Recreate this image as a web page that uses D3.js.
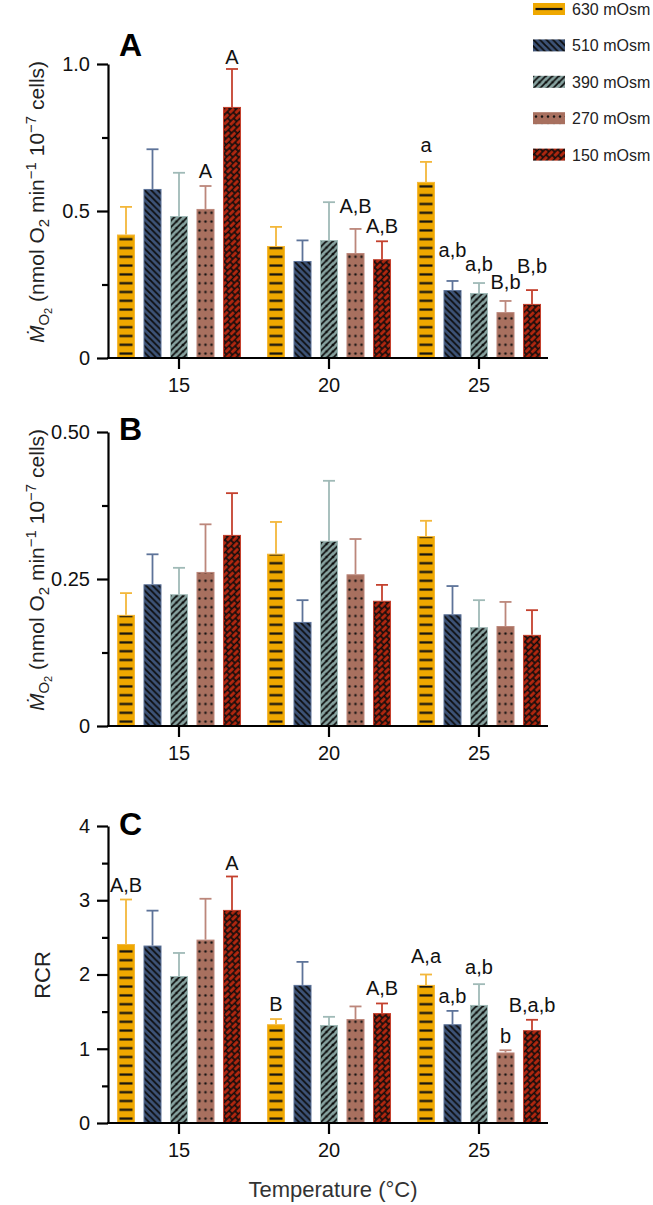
<!DOCTYPE html>
<html>
<head>
<meta charset="utf-8">
<script src="https://cdn.jsdelivr.net/npm/d3@7"></script>
<style>
  body { margin: 0; background: #fff; }
  svg { display: block; font-family: "Liberation Sans", Arial, sans-serif; }
</style>
</head>
<body>
<svg id="chart" width="653" height="1205"></svg>
<script>
// ---- data ----
var temps = ["15", "20", "25"];
var osm = ["630 mOsm", "510 mOsm", "390 mOsm", "270 mOsm", "150 mOsm"];

// panel A: MO2 (intact cells), mean and SEM, [temperature][osmolality]
var meanA = [[0.42, 0.575, 0.483, 0.507, 0.854],
             [0.381, 0.33, 0.401, 0.357, 0.336],
             [0.599, 0.231, 0.221, 0.156, 0.184]];
var semA  = [[0.094, 0.135, 0.147, 0.078, 0.129],
             [0.065, 0.07, 0.129, 0.082, 0.061],
             [0.068, 0.031, 0.034, 0.038, 0.047]];

// panel B
var meanB = [[0.189, 0.241, 0.224, 0.262, 0.325],
             [0.293, 0.177, 0.315, 0.258, 0.213],
             [0.323, 0.19, 0.168, 0.17, 0.155]];
var semB  = [[0.037, 0.051, 0.045, 0.081, 0.071],
             [0.054, 0.037, 0.102, 0.06, 0.027],
             [0.026, 0.048, 0.046, 0.041, 0.042]];

// panel C: RCR
var meanC = [[2.41, 2.39, 1.98, 2.47, 2.87],
             [1.33, 1.86, 1.32, 1.40, 1.48],
             [1.86, 1.33, 1.59, 0.95, 1.25]];
var semC  = [[0.60, 0.47, 0.31, 0.55, 0.45],
             [0.07, 0.31, 0.11, 0.17, 0.13],
             [0.14, 0.18, 0.28, 0.03, 0.14]];

// significance letters: [temp index, osm index, text, value where the text sits]
var lettersA = [[0, 3, "A", 0.612], [0, 4, "A", 1.0],
                [1, 3, "A,B", 0.493], [1, 4, "A,B", 0.425],
                [2, 0, "a", 0.70], [2, 1, "a,b", 0.344], [2, 2, "a,b", 0.296],
                [2, 3, "B,b", 0.235], [2, 4, "B,b", 0.289]];
var lettersB = [];
var lettersC = [[0, 0, "A,B", 3.11], [0, 4, "A", 3.41],
                [1, 0, "B", 1.51], [1, 4, "A,B", 1.72],
                [2, 0, "A,a", 2.15], [2, 1, "a,b", 1.62], [2, 2, "a,b", 2.01],
                [2, 3, "b", 1.08], [2, 4, "B,a,b", 1.49]];

var fills  = ["#EFA800", "#3D5377", "#87A3A0", "#A8705F", "#B3270F"];
var lights = ["#F3B73A", "#5D7399", "#A0BAB7", "#BC877B", "#C4412E"];

var svg = d3.select("#chart");
var defs = svg.append("defs");

// hatch patterns, one set for bars and one for legend swatches
function makePatterns(suffix, w, h0) {
  // 630: horizontal dashes
  var p = defs.append("pattern").attr("id", "p0" + suffix)
    .attr("patternUnits", "userSpaceOnUse").attr("width", w).attr("height", h0);
  p.append("rect").attr("width", w).attr("height", h0).attr("fill", fills[0]);
  p.append("rect").attr("x", 2.5).attr("y", h0 / 2 - 1.1).attr("width", w - 5).attr("height", 2.2).attr("fill", "#111");

  // 510: "\" lines
  p = defs.append("pattern").attr("id", "p1" + suffix)
    .attr("patternUnits", "userSpaceOnUse").attr("width", 6.5).attr("height", 6.5);
  p.append("rect").attr("width", 6.5).attr("height", 6.5).attr("fill", fills[1]);
  p.append("path").attr("d", "M-1,-1L7.5,7.5M-1,5.5L1,7.5M5.5,-1L7.5,1")
    .attr("stroke", "#0c0c0c").attr("stroke-width", 1.8);

  // 390: "/" lines
  p = defs.append("pattern").attr("id", "p2" + suffix)
    .attr("patternUnits", "userSpaceOnUse").attr("width", 6.5).attr("height", 6.5);
  p.append("rect").attr("width", 6.5).attr("height", 6.5).attr("fill", fills[2]);
  p.append("path").attr("d", "M-1,7.5L7.5,-1M-1,1.5L1.5,-1M5,7.5L7.5,5")
    .attr("stroke", "#0c0c0c").attr("stroke-width", 1.7);

  // 270: dots
  p = defs.append("pattern").attr("id", "p3" + suffix)
    .attr("patternUnits", "userSpaceOnUse").attr("width", 6).attr("height", 8.8);
  p.append("rect").attr("width", 6).attr("height", 8.8).attr("fill", fills[3]);
  p.append("circle").attr("cx", 3).attr("cy", 4.4).attr("r", 1.2).attr("fill", "#111");

  // 150: diagonal bricks
  p = defs.append("pattern").attr("id", "p4" + suffix)
    .attr("patternUnits", "userSpaceOnUse").attr("width", 8).attr("height", 9)
    .attr("patternTransform", "rotate(-45)");
  p.append("rect").attr("width", 8).attr("height", 9).attr("fill", fills[4]);
  p.append("path").attr("d", "M0,0H8M0,4.5H8M0,9H8M1,0V4.5M5,4.5V9")
    .attr("stroke", "#0c0c0c").attr("stroke-width", 1.6);
}
makePatterns("bar", 18, 8.8);
makePatterns("leg", 32, 12);

// ---- shared x scales ----
var xAxisLeft = 108, xAxisRight = 548;
var xg = d3.scaleBand().domain(temps).range([104, 554]);
var xs = d3.scaleBand().domain(osm).range([-66.25, 66.25]).paddingInner(0.32).paddingOuter(0.16);

function drawPanel(opt) {
  var y = d3.scaleLinear().domain(opt.domain).range([opt.bottom, opt.top]);
  var g = svg.append("g");

  // bars
  temps.forEach(function(t, ti) {
    var grp = g.append("g");
    osm.forEach(function(o, si) {
      var m = opt.mean[ti][si], e = opt.sem[ti][si];
      var bx = xg(t) + xg.bandwidth() / 2 + xs(o);
      var cx = bx + xs.bandwidth() / 2;
      // error bar (upper only)
      grp.append("line").attr("x1", cx).attr("x2", cx)
        .attr("y1", y(m)).attr("y2", y(m + e))
        .attr("stroke", lights[si]).attr("stroke-width", 1.8);
      grp.append("line").attr("x1", cx - 6).attr("x2", cx + 6)
        .attr("y1", y(m + e)).attr("y2", y(m + e))
        .attr("stroke", lights[si]).attr("stroke-width", 1.8);
      var bar = grp.append("g").attr("transform", "translate(" + bx + "," + y(0) + ")");
      bar.append("rect")
        .attr("x", 0.5).attr("y", y(m) - y(0) + 0.5)
        .attr("width", xs.bandwidth() - 1).attr("height", y(0) - y(m) - 0.5)
        .attr("fill", "url(#p" + si + "bar)")
        .attr("stroke", lights[si]).attr("stroke-width", 1);
    });
  });

  // letters
  opt.letters.forEach(function(l) {
    var cx = xg(temps[l[0]]) + xg.bandwidth() / 2 + xs(osm[l[1]]) + xs.bandwidth() / 2;
    g.append("text").attr("x", cx).attr("y", y(l[3]))
      .attr("text-anchor", "middle").attr("font-size", 20).attr("fill", "#111")
      .text(l[2]);
  });

  // y axis (major + minor ticks)
  var ya = g.append("g").attr("transform", "translate(" + xAxisLeft + ",0)")
    .call(d3.axisLeft(y).tickValues(opt.major).tickSize(11).tickSizeOuter(0)
      .tickPadding(7).tickFormat(function(d, i) { return opt.majorLabels[i]; }));
  ya.select(".domain").attr("stroke-width", 2.2);
  ya.selectAll(".tick line").attr("stroke-width", 2.2);
  ya.selectAll(".tick text").attr("font-size", 20).attr("fill", "#111")
    .style("font-family", "'Liberation Sans', Arial, sans-serif");
  var ym = g.append("g").attr("transform", "translate(" + xAxisLeft + ",0)")
    .call(d3.axisLeft(y).tickValues(opt.minor).tickSize(6).tickFormat(""));
  ym.select(".domain").remove();
  ym.selectAll(".tick line").attr("stroke-width", 2.2);

  // x axis
  var xa = g.append("g").attr("transform", "translate(0," + y(0) + ")")
    .call(d3.axisBottom(xg).tickSize(11).tickPadding(9));
  xa.select(".domain").remove();
  xa.selectAll(".tick line").attr("stroke-width", 2.2);
  xa.selectAll(".tick text").attr("font-size", 20).attr("fill", "#111")
    .style("font-family", "'Liberation Sans', Arial, sans-serif");
  g.append("line").attr("x1", xAxisLeft - 1).attr("x2", xAxisRight)
    .attr("y1", y(0)).attr("y2", y(0)).attr("stroke", "#000").attr("stroke-width", 2.2);

  // panel letter
  g.append("text").attr("x", 119).attr("y", opt.letterY)
    .attr("font-size", 32).attr("font-weight", "bold").text(opt.name);

  return y;
}

function mo2Label(yc) {
  var t = svg.append("text")
    .attr("transform", "translate(44," + yc + ") rotate(-90)")
    .attr("text-anchor", "middle").attr("font-size", 21).attr("fill", "#222");
  t.append("tspan").attr("font-style", "italic").text("\u1E40");
  t.append("tspan").attr("font-size", 15).attr("dy", 5).text("O");
  t.append("tspan").attr("font-size", 11).attr("dy", 3).text("2");
  t.append("tspan").attr("dy", -8).text(" (nmol O");
  t.append("tspan").attr("font-size", 15).attr("dy", 5).text("2");
  t.append("tspan").attr("dy", -5).text(" min");
  t.append("tspan").attr("font-size", 15).attr("dy", -8).text("\u22121");
  t.append("tspan").attr("dy", 8).text(" 10");
  t.append("tspan").attr("font-size", 15).attr("dy", -8).text("\u22127");
  t.append("tspan").attr("dy", 8).text(" cells)");
}

drawPanel({ name: "A", mean: meanA, sem: semA, letters: lettersA,
  domain: [0, 1], top: 64, bottom: 358, letterY: 56,
  major: [0, 0.5, 1], majorLabels: ["0", "0.5", "1.0"], minor: [0.25, 0.75] });
drawPanel({ name: "B", mean: meanB, sem: semB, letters: lettersB,
  domain: [0, 0.5], top: 432, bottom: 726, letterY: 440,
  major: [0, 0.25, 0.5], majorLabels: ["0", "0.25", "0.50"], minor: [0.125, 0.375] });
drawPanel({ name: "C", mean: meanC, sem: semC, letters: lettersC,
  domain: [0, 4], top: 826, bottom: 1123, letterY: 835,
  major: [0, 1, 2, 3, 4], majorLabels: ["0", "1", "2", "3", "4"], minor: [0.5, 1.5, 2.5, 3.5] });

mo2Label(202);
mo2Label(570);
svg.append("text").attr("transform", "translate(50,975) rotate(-90)")
  .attr("text-anchor", "middle").attr("font-size", 22).attr("fill", "#222").text("RCR");

svg.append("text").attr("x", 333).attr("y", 1197)
  .attr("text-anchor", "middle").attr("font-size", 22).attr("fill", "#333")
  .text("Temperature (\u00B0C)");

// legend
var leg = svg.append("g");
osm.forEach(function(o, i) {
  var yc = 9 + i * 36.4;
  leg.append("g").attr("transform", "translate(533," + (yc - 6) + ")")
    .append("rect").attr("width", 32).attr("height", 12)
    .attr("fill", "url(#p" + i + "leg)");
  leg.append("text").attr("x", 572).attr("y", yc + 6)
    .attr("font-size", 16).attr("fill", "#222").text(o);
});
</script>
</body>
</html>
